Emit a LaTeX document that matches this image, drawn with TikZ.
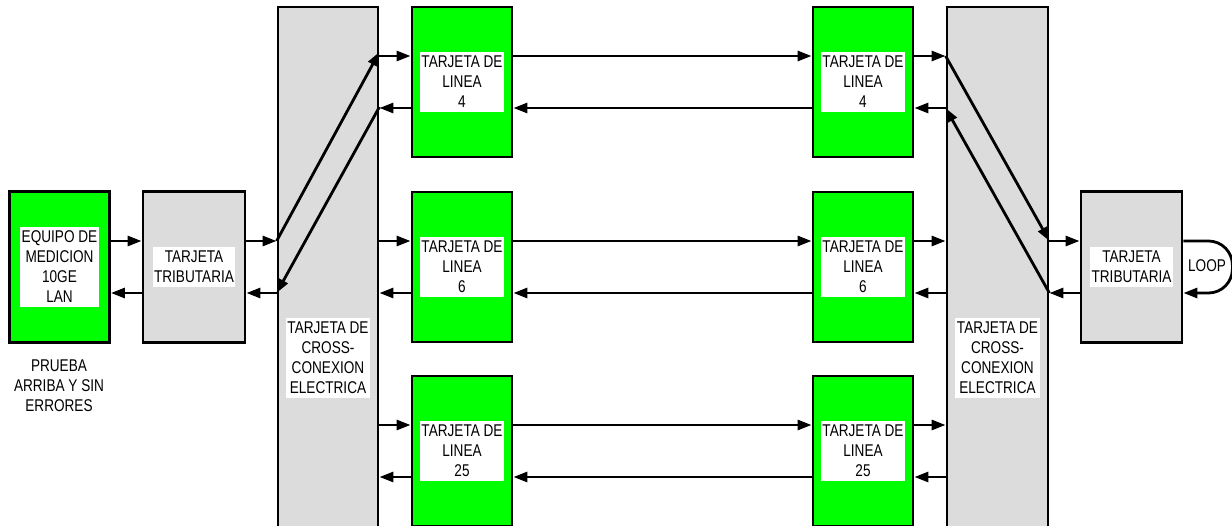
\documentclass[tikz,border=0pt]{standalone}
\usepackage{fontspec}
\setmainfont{Liberation Sans}[FakeStretch=0.8]
\usepackage{xcolor}
\usepackage{tikz}
\usetikzlibrary{arrows.meta, calc}
\definecolor{cardgreen}{HTML}{00FF00}
\definecolor{cardgray}{HTML}{DCDCDC}
\tikzset{
  card/.style={
    draw=black,
    line width=2.8pt,
    fill=cardgreen,
    minimum width=100pt,
    minimum height=150pt,
    inner sep=0pt
  },
  graycard/.style={card, fill=cardgray},
  txt/.style={
    align=center,
    inner xsep=1.5pt, inner ysep=4pt,
    font=\fontsize{17}{20}\selectfont
  },
  lbl/.style={txt, fill=white},
  link/.style={
    -{Triangle[length=14pt,width=10pt]},
    line width=2.8pt
  }
}

\begin{document}
\begin{tikzpicture}[x=1pt, y=-1pt]
  \useasboundingbox (0,0) rectangle (1232,525);
  \clip (0,0) rectangle (1232,525);

  % Left end
  \node[card, minimum height=151pt] (equipo) at (59.5,267) {};
  \node[lbl] (equipo-txt) at (equipo) {EQUIPO DE\\MEDICION\\10GE\\LAN};
  \node[txt] (prueba) at (59,386) {PRUEBA\\ARRIBA Y SIN\\ERRORES};
  \node[graycard, minimum width=102pt, minimum height=151pt] (tribL) at (194,267) {};
  \node[lbl] (tribL-txt) at (tribL) {TARJETA\\TRIBUTARIA};
  \node[graycard, minimum height=702pt] (xcL) at (328,358) {};
  \node[lbl] (xcL-txt) at (xcL) {TARJETA DE\\CROSS-\\CONEXION\\ELECTRICA};

  % Right end
  \node[graycard, minimum width=101pt, minimum height=702pt] (xcR) at (997.5,358) {};
  \node[lbl] (xcR-txt) at (xcR) {TARJETA DE\\CROSS-\\CONEXION\\ELECTRICA};
  \node[graycard, minimum width=101pt, minimum height=151pt] (tribR) at (1131.5,267) {};
  \node[lbl] (tribR-txt) at (tribR) {TARJETA\\TRIBUTARIA};
  \node[txt] (loop) at (1207,266) {LOOP};

  % Line cards
  \foreach \n/\y in {4/82, 6/267, 25/451} {
    \node[card] (tarjL\n) at (462,\y) {};
    \node[lbl] (tarjL\n-txt) at (tarjL\n) {TARJETA DE\\LINEA\\\n};
    \node[card] (tarjR\n) at (863,\y) {};
    \node[lbl] (tarjR\n-txt) at (tarjR\n) {TARJETA DE\\LINEA\\\n};
  }

  % Junctions on the cross-connect cards
  \coordinate (jL) at (xcL.west |- tribL.east);
  \coordinate (jR) at (xcR.east |- tribR.west);
  \coordinate (kL) at (xcL.east |- tarjL4.west);
  \coordinate (kR) at (xcR.west |- tarjR4.east);

  % Equipo <-> tributaria <-> cross
  \draw[link] ([yshift=26pt]equipo.east) -- ([yshift=26pt]tribL.west);
  \draw[link] ([yshift=-26pt]tribL.west) -- ([yshift=-26pt]equipo.east);
  \draw[link] ([yshift=26pt]tribL.east) -- ([yshift=26pt]jL);
  \draw[link] ([yshift=-26pt]jL) -- ([yshift=-26pt]tribL.east);
  \draw[link] ([yshift=26pt]jR) -- ([yshift=26pt]tribR.west);
  \draw[link] ([yshift=-26pt]tribR.west) -- ([yshift=-26pt]jR);

  % Cross-connections
  \draw[link] ([yshift=26pt]jL) -- ([yshift=30pt]kL);
  \draw[link] ([yshift=-25pt]kL) -- ([yshift=-26pt]jL);
  \draw[link] ([yshift=26pt]kR) -- ([yshift=26pt]jR);
  \draw[link] ([yshift=-26pt]jR) -- ([yshift=-26pt]kR);

  % Line card links
  \foreach \n in {4,6,25} {
    \draw[link] ($(xcL.east |- tarjL\n.west)+(0pt,26pt)$) -- ([yshift=26pt]tarjL\n.west);
    \draw[link] ([yshift=-26pt]tarjL\n.west) -- ($(xcL.east |- tarjL\n.west)+(0pt,-26pt)$);
    \draw[link] ([yshift=26pt]tarjL\n.east) -- ([yshift=26pt]tarjR\n.west);
    \draw[link] ([yshift=-26pt]tarjR\n.west) -- ([yshift=-26pt]tarjL\n.east);
    \draw[link] ([yshift=26pt]tarjR\n.east) -- ($(xcR.west |- tarjR\n.east)+(0pt,26pt)$);
    \draw[link] ($(xcR.west |- tarjR\n.east)+(0pt,-26pt)$) -- ([yshift=-26pt]tarjR\n.east);
  }

  % Loop
  \draw[link, rounded corners=24pt] ([yshift=26pt]tribR.east) -- ++(49pt,0pt)
    -- ++(0pt,-52pt) -- ([yshift=-26pt]tribR.east);
\end{tikzpicture}
\end{document}
